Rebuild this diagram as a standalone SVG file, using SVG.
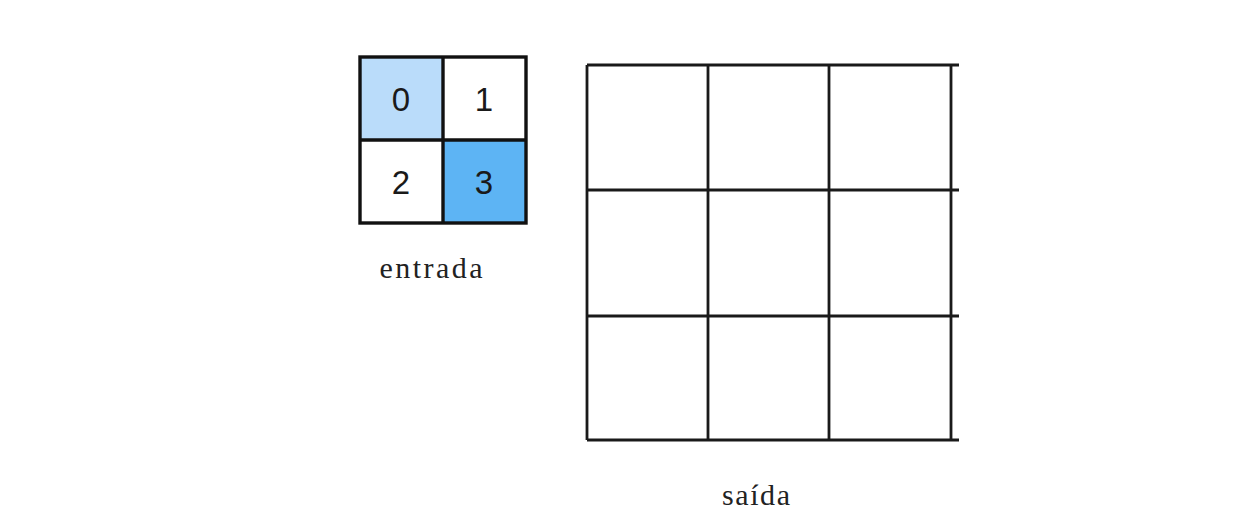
<svg xmlns="http://www.w3.org/2000/svg" width="1240" height="526" viewBox="0 0 1240 526">
<style>
.in{stroke:#111;stroke-width:3.4;fill:none}
.g{stroke:#1a1a1a;stroke-width:2.8;fill:none}
.d{font-family:"Liberation Sans",Arial,sans-serif;font-size:33px;fill:#1a1a1a;text-anchor:middle}
.lbl{font-family:"Liberation Serif","Times New Roman",serif;font-size:30px;fill:#222;text-anchor:middle}
</style>
<rect width="1240" height="526" fill="#fff"/>
<g id="entrada">
<rect x="360" y="57" width="83" height="83" fill="#badcfa"/>
<rect x="443" y="140" width="83" height="83" fill="#5db4f4"/>
<rect class="in" x="360" y="57" width="166" height="166"/>
<line class="in" x1="443" y1="57" x2="443" y2="223"/>
<line class="in" x1="360" y1="140" x2="526" y2="140"/>
<text class="d" x="401" y="111">0</text>
<text class="d" x="484" y="111">1</text>
<text class="d" x="401" y="194">2</text>
<text class="d" x="484" y="194">3</text>
<text class="lbl" x="431" y="278" textLength="103" lengthAdjust="spacing">entrada</text>
</g>
<g id="saida">
<line class="g" x1="587" y1="65" x2="959" y2="65"/>
<line class="g" x1="587" y1="190" x2="959" y2="190"/>
<line class="g" x1="587" y1="316" x2="959" y2="316"/>
<line class="g" x1="587" y1="440" x2="959" y2="440"/>
<line class="g" x1="587" y1="65" x2="587" y2="440"/>
<line class="g" x1="708" y1="65" x2="708" y2="440"/>
<line class="g" x1="829" y1="65" x2="829" y2="440"/>
<line class="g" x1="951" y1="65" x2="951" y2="440"/>
<text class="lbl" x="756" y="505" textLength="68" lengthAdjust="spacing">saída</text>
</g>
<g id="connectors"/>
</svg>
